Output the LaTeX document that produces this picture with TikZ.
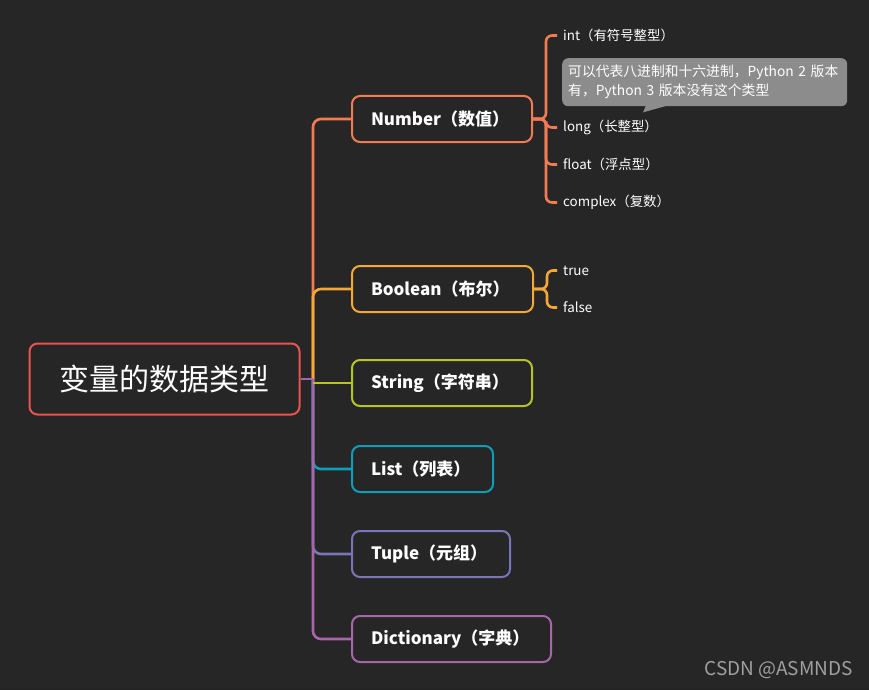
\documentclass[tikz,border=0pt]{standalone}
\usepackage{fontspec}
\newfontfamily\cjk{Noto Sans CJK SC}
\definecolor{bg}{HTML}{262626}
\definecolor{rootc}{HTML}{E85450}
\definecolor{numc}{HTML}{F27B53}
\definecolor{boolc}{HTML}{F5A833}
\definecolor{strc}{HTML}{B8C425}
\definecolor{listc}{HTML}{0F9DB8}
\definecolor{tupc}{HTML}{7A74B9}
\definecolor{dictc}{HTML}{A566AA}
\definecolor{notec}{HTML}{8C8C8C}
\definecolor{wmc}{HTML}{A0A0A0}
\begin{document}
\begin{tikzpicture}[x=1pt,y=-1pt,
  conn/.style={line width=2.6pt, rounded corners=8pt},
  topic/.style={draw, line width=2pt, rounded corners=8pt, fill=bg, text=white,
    minimum height=46pt, inner xsep=19pt, inner ysep=0pt, anchor=west, align=left,
    font=\cjk\bfseries\fontsize{17}{20}\selectfont},
  leaf/.style={text=white, inner sep=0pt, anchor=west, font=\cjk\fontsize{13.4}{16}\selectfont},
]
\fill[bg] (0,0) rectangle (869,690);
\useasboundingbox (0,0) rectangle (869,690);

% nodes
\node[draw=rootc, line width=2pt, rounded corners=8pt, fill=bg, minimum width=270pt,
  minimum height=71pt, text=white, font=\cjk\fontsize{30}{34}\selectfont] (root) at (164.5,379) {变量的数据类型};
\node[topic, draw=numc, text width=142pt] (num) at (351,119) {Number（数值）};
\node[topic, draw=boolc, text width=143pt] (bool) at (351,289) {Boolean（布尔）};
\node[topic, draw=strc, text width=142pt] (str) at (351,383) {String（字符串）};
\node[topic, draw=listc, text width=103pt] (list) at (351,469) {List（列表）};
\node[topic, draw=tupc, text width=120pt] (tup) at (351,554) {Tuple（元组）};
\node[topic, draw=dictc, text width=161pt] (dict) at (351,639) {Dictionary（字典）};

\node[leaf] (int) at (563,35.5) {int（有符号整型）};
\node[leaf] (long) at (563,127.5) {long（长整型）};
\node[leaf] (float) at (563,164.5) {float（浮点型）};
\node[leaf] (complex) at (563,202.5) {complex（复数）};
\node[leaf] (true) at (563,270.5) {true};
\node[leaf] (false) at (563,307.5) {false};

\node[fill=notec, rounded corners=6pt, text=white, inner xsep=6pt, inner ysep=4pt,
  minimum height=48pt, text width=273pt, align=left, anchor=north west,
  font=\cjk\fontsize{13.8}{19}\selectfont] (note) at (562,58)
  {可以代表八进制和十六进制，Python 2 版本\\有，Python 3 版本没有这个类型};
\fill[notec] ([xshift=84pt,yshift=1pt]note.south west) -- ([xshift=81pt,yshift=-6pt]note.south west)
  -- ([xshift=106pt,yshift=1pt]note.south west) -- cycle;

\node[anchor=east, text=wmc, inner sep=0pt, font=\cjk\fontsize{19}{22}\selectfont] (wm) at (853,670) {CSDN @ASMNDS};

% main connectors
\coordinate (hub) at (313,379);
\draw[conn, numc] (hub) |- (num.west);
\draw[conn, boolc] (hub) |- (bool.west);
\draw[conn, listc] (hub) |- (list.west);
\draw[conn, tupc] (hub) |- (tup.west);
\draw[conn, dictc] (hub) |- (dict.west);
\draw[conn, strc] (hub |- str.west) -- (str.west);
\draw[conn, dictc] (root.east) -- (hub);

% number sub-branches
\coordinate (nj) at ([xshift=13pt]num.east);
\foreach \c in {int,long,float,complex}
  \draw[conn, numc, rounded corners=6pt] (num.east) -- (nj) |- ([xshift=-6pt]\c.west);

% boolean sub-branches
\coordinate (bj) at ([xshift=13pt]bool.east);
\foreach \c in {true,false}
  \draw[conn, boolc, rounded corners=6pt] (bool.east) -- (bj) |- ([xshift=-6pt]\c.west);
\end{tikzpicture}
\end{document}
